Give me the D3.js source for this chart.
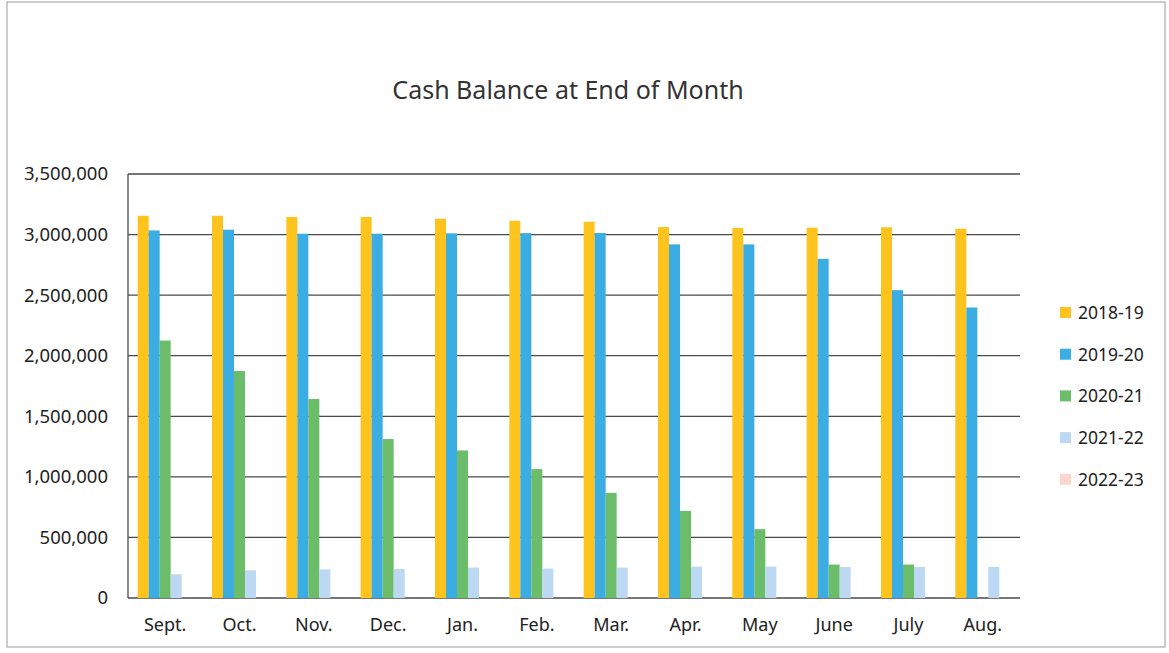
<!DOCTYPE html>
<html lang="en">
<head>
<meta charset="UTF-8">
<title>Cash Balance at End of Month</title>
<style>
body { margin: 0; background: #fff; }
svg { display: block; font-family: 'Noto Sans', 'Open Sans', sans-serif; }
.grid line { stroke: #4a4a4a; stroke-width: 1.3; }
.tick text { fill: #222; }
</style>
</head>
<body>
<svg id="chart" width="1169" height="653"></svg>
<script src="https://d3js.org/d3.v7.min.js"></script>
<script>
// values
var months = ["Sept.", "Oct.", "Nov.", "Dec.", "Jan.", "Feb.", "Mar.", "Apr.", "May", "June", "July", "Aug."];
var seasons = ["2018-19", "2019-20", "2020-21", "2021-22", "2022-23"];
var colors = ["#fec31c", "#3badE2", "#6cbd6a", "#bcd8f3", "#fcd6cc"];

var cash1819 = [3155000, 3155000, 3145000, 3145000, 3131000, 3114000, 3106000, 3062000, 3054000, 3057000, 3060000, 3048000];
var cash1920 = [3034000, 3040000, 3007000, 3007000, 3010000, 3012000, 3013000, 2919000, 2919000, 2800000, 2541000, 2398000];
var cash2021 = [2125000, 1874000, 1643000, 1312000, 1218000, 1064000, 868000, 719000, 568000, 276000, 276000, null];
var cash2122 = [196000, 229000, 236000, 240000, 251000, 243000, 251000, 259000, 259000, 256000, 256000, 256000];
var cash2223 = [null, null, null, null, null, null, null, null, null, null, null, null];
var yTicks = [0, 500000, 1000000, 1500000, 2000000, 2500000, 3000000, 3500000];

var series = [cash1819, cash1920, cash2021, cash2122, cash2223];

var svg = d3.select("#chart");
var plotLeft = 128, plotRight = 1020, plotTop = 174, plotBottom = 598;

// scanned page frame
svg.append("rect")
  .attr("x", 7).attr("y", 2).attr("width", 1158).attr("height", 645)
  .attr("fill", "none").attr("stroke", "#999").attr("stroke-width", 1);

svg.append("text")
  .attr("x", 568).attr("y", 99)
  .attr("text-anchor", "middle")
  .attr("font-size", 25)
  .attr("fill", "#333")
  .text("Cash Balance at End of Month");

var x = d3.scaleBand().domain(months).range([plotLeft, plotRight]).paddingInner(0.26).paddingOuter(0.13);
var xs = d3.scaleBand().domain(seasons).range([0, x.bandwidth()]);
var y = d3.scaleLinear().domain([0, 3500000]).range([plotBottom, plotTop]);

// gridlines
svg.append("g").attr("class", "grid")
  .selectAll("line").data(yTicks).join("line")
  .attr("x1", plotLeft).attr("x2", plotRight)
  .attr("y1", function (d) { return y(d); })
  .attr("y2", function (d) { return y(d); });

svg.append("line")
  .attr("x1", plotLeft).attr("x2", plotLeft).attr("y1", plotTop).attr("y2", plotBottom)
  .attr("stroke", "#4a4a4a").attr("stroke-width", 1.3);

// y axis labels
var yAxis = svg.append("g")
  .attr("transform", "translate(" + (plotLeft - 20) + ",0)")
  .call(d3.axisLeft(y).tickValues(yTicks).tickSize(0).tickPadding(0).tickFormat(d3.format(",")));
yAxis.select(".domain").remove();
yAxis.selectAll("text").attr("font-size", 18.5).attr("font-family", "'Noto Sans', sans-serif");

// x axis labels
var xAxis = svg.append("g")
  .attr("transform", "translate(0," + plotBottom + ")")
  .call(d3.axisBottom(x).tickSize(0).tickPadding(20));
xAxis.select(".domain").remove();
xAxis.selectAll("text").attr("font-size", 18).attr("font-family", "'Noto Sans', sans-serif");

// bars
seasons.forEach(function (s, i) {
  svg.append("g")
    .attr("fill", colors[i])
    .selectAll("rect")
    .data(series[i].map(function (v, j) { return { m: months[j], v: v }; }).filter(function (d) { return d.v != null; }))
    .join("rect")
    .attr("x", function (d) { return x(d.m) + xs(s); })
    .attr("width", xs.bandwidth())
    .attr("y", function (d) { return y(d.v); })
    .attr("height", function (d) { return plotBottom - y(d.v); });
});

// legend
var legend = svg.append("g").attr("transform", "translate(1060,313)");
var item = legend.selectAll("g").data(seasons).join("g")
  .attr("transform", function (d, i) { return "translate(0," + (i * 41.7) + ")"; });
item.append("rect")
  .attr("x", 0).attr("y", -6).attr("width", 11).attr("height", 11)
  .attr("fill", function (d, i) { return colors[i]; });
item.append("text")
  .attr("x", 18).attr("y", 6)
  .attr("font-size", 17.5)
  .attr("fill", "#222")
  .text(function (d) { return d; });
</script>
</body>
</html>
